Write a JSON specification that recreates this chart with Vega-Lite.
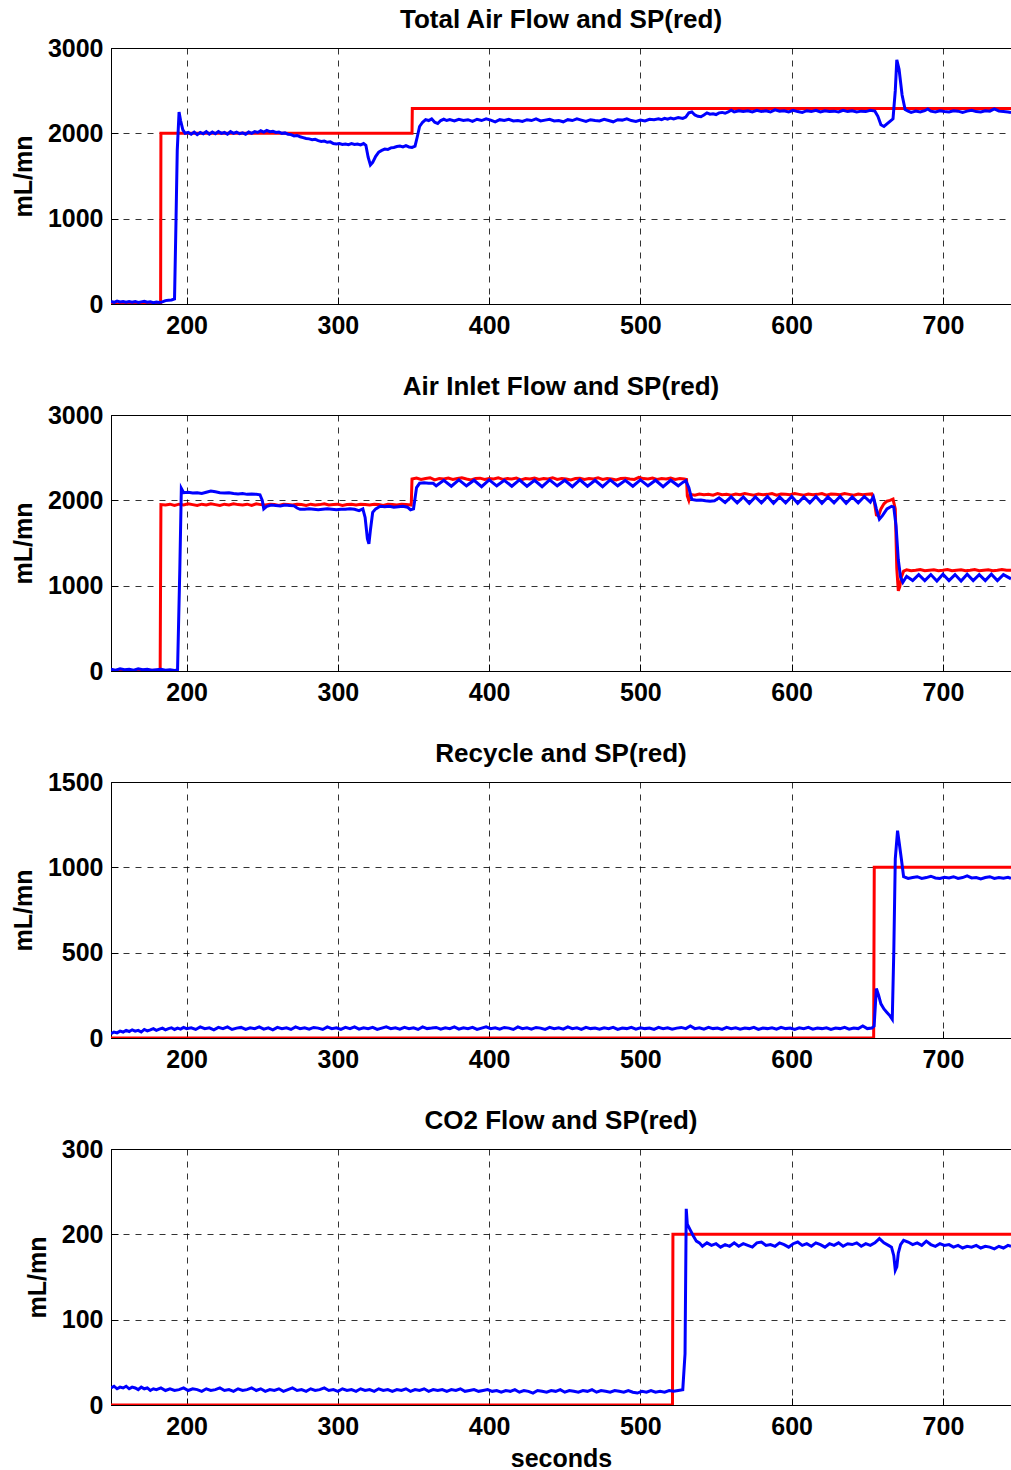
{
"$schema": "https://vega.github.io/schema/vega-lite/v6.json",
"autosize": {"type": "pad"},
"padding": {"left": 10, "top": 6, "right": 0, "bottom": 4},
"background": "white",
"config": {
  "font": "Liberation Sans",
  "view": {"stroke": "black", "strokeWidth": 1},
  "axis": {
    "labelFontSize": 25, "labelFontWeight": "bold", "labelColor": "black", "labelFont": "Liberation Sans",
    "titleFontSize": 25, "titleFontWeight": "bold", "titleColor": "black", "titleFont": "Liberation Sans",
    "domainColor": "black", "domainWidth": 1, "tickColor": "black", "tickSize": -7, "tickWidth": 1,
    "grid": true, "gridColor": "black", "gridDash": [6, 6], "gridWidth": 1, "gridOpacity": 0.8,
    "labelFlush": false, "labelOverlap": false, "labelBound": false
  },
  "axisX": {"labelPadding": 16, "titlePadding": 7},
  "axisY": {"labelPadding": 15, "titlePadding": 11},
  "title": {"fontSize": 26, "fontWeight": "bold", "color": "black", "font": "Liberation Sans", "offset": 3, "baseline": "alphabetic", "anchor": "middle"}
},
"datasets": {
"p1sp": [{"t":150,"v":0},{"t":182.8,"v":0},{"t":183,"v":2000},{"t":349,"v":2000},{"t":349.2,"v":2290},{"t":745,"v":2290}],
"p1pv": [{"t":150,"v":30},{"t":152,"v":20},{"t":154,"v":35},{"t":156,"v":25},{"t":158,"v":30},{"t":160,"v":20},{"t":162,"v":28},{"t":164,"v":22},{"t":166,"v":30},{"t":168,"v":18},{"t":170,"v":25},{"t":172,"v":32},{"t":174,"v":20},{"t":176,"v":26},{"t":178,"v":15},{"t":180,"v":22},{"t":182,"v":18},{"t":184,"v":25},{"t":186,"v":40},{"t":188,"v":45},{"t":190,"v":48},{"t":192,"v":60},{"t":193,"v":1000},{"t":193.8,"v":1800},{"t":195,"v":2250},{"t":196,"v":2150},{"t":197.5,"v":2040},{"t":199,"v":2000},{"t":201,"v":2010},{"t":203,"v":1990},{"t":205,"v":2015},{"t":207,"v":1985},{"t":209,"v":2010},{"t":211,"v":1995},{"t":213,"v":2020},{"t":215,"v":1990},{"t":217,"v":2015},{"t":219,"v":1995},{"t":221,"v":2020},{"t":223,"v":2000},{"t":225,"v":2010},{"t":227,"v":1990},{"t":229,"v":2020},{"t":231,"v":2000},{"t":233,"v":2015},{"t":235,"v":1995},{"t":237,"v":2005},{"t":239,"v":1990},{"t":241,"v":2015},{"t":243,"v":2000},{"t":245,"v":2020},{"t":247,"v":2010},{"t":249,"v":2030},{"t":251,"v":2015},{"t":253,"v":2035},{"t":255,"v":2020},{"t":257,"v":2025},{"t":259,"v":2010},{"t":261,"v":2015},{"t":263,"v":2000},{"t":265,"v":2005},{"t":267,"v":1990},{"t":269,"v":1985},{"t":271,"v":1970},{"t":273,"v":1975},{"t":275,"v":1960},{"t":277,"v":1950},{"t":279,"v":1940},{"t":281,"v":1935},{"t":283,"v":1925},{"t":285,"v":1930},{"t":287,"v":1915},{"t":289,"v":1905},{"t":291,"v":1910},{"t":293,"v":1895},{"t":295,"v":1900},{"t":297,"v":1880},{"t":299,"v":1875},{"t":301,"v":1880},{"t":303,"v":1870},{"t":305,"v":1875},{"t":307,"v":1868},{"t":309,"v":1880},{"t":311,"v":1870},{"t":313,"v":1875},{"t":315,"v":1865},{"t":317,"v":1880},{"t":318.5,"v":1860},{"t":320,"v":1720},{"t":321.5,"v":1630},{"t":323,"v":1660},{"t":325,"v":1730},{"t":327,"v":1780},{"t":329,"v":1800},{"t":331,"v":1815},{"t":333,"v":1810},{"t":335,"v":1830},{"t":337,"v":1835},{"t":339,"v":1845},{"t":341,"v":1850},{"t":343,"v":1840},{"t":345,"v":1855},{"t":347,"v":1840},{"t":349,"v":1835},{"t":351,"v":1850},{"t":352.5,"v":1960},{"t":354,"v":2080},{"t":356,"v":2130},{"t":358,"v":2160},{"t":360,"v":2150},{"t":362,"v":2170},{"t":364,"v":2130},{"t":366,"v":2115},{"t":368,"v":2150},{"t":370,"v":2165},{"t":372,"v":2150},{"t":374,"v":2160},{"t":377,"v":2145},{"t":380,"v":2165},{"t":383,"v":2150},{"t":386,"v":2160},{"t":389,"v":2140},{"t":392,"v":2165},{"t":395,"v":2150},{"t":398,"v":2170},{"t":401,"v":2155},{"t":404,"v":2135},{"t":407,"v":2160},{"t":410,"v":2150},{"t":413,"v":2165},{"t":416,"v":2145},{"t":419,"v":2150},{"t":422,"v":2140},{"t":425,"v":2160},{"t":428,"v":2150},{"t":431,"v":2170},{"t":434,"v":2145},{"t":437,"v":2155},{"t":440,"v":2165},{"t":443,"v":2145},{"t":446,"v":2150},{"t":449,"v":2135},{"t":452,"v":2160},{"t":455,"v":2150},{"t":458,"v":2170},{"t":461,"v":2155},{"t":464,"v":2140},{"t":467,"v":2160},{"t":470,"v":2150},{"t":473,"v":2145},{"t":476,"v":2165},{"t":479,"v":2150},{"t":482,"v":2135},{"t":485,"v":2160},{"t":488,"v":2155},{"t":491,"v":2170},{"t":494,"v":2150},{"t":497,"v":2140},{"t":500,"v":2155},{"t":503,"v":2145},{"t":506,"v":2165},{"t":509,"v":2160},{"t":512,"v":2170},{"t":514,"v":2160},{"t":516,"v":2175},{"t":518,"v":2165},{"t":520,"v":2180},{"t":522,"v":2170},{"t":525,"v":2185},{"t":528,"v":2175},{"t":530,"v":2190},{"t":532,"v":2240},{"t":534,"v":2250},{"t":536,"v":2215},{"t":538,"v":2200},{"t":540,"v":2195},{"t":542,"v":2215},{"t":544,"v":2240},{"t":546,"v":2225},{"t":548,"v":2230},{"t":550,"v":2220},{"t":552,"v":2240},{"t":554,"v":2245},{"t":556,"v":2235},{"t":558,"v":2250},{"t":560,"v":2270},{"t":562,"v":2250},{"t":565,"v":2265},{"t":568,"v":2255},{"t":571,"v":2265},{"t":574,"v":2250},{"t":577,"v":2270},{"t":580,"v":2255},{"t":583,"v":2265},{"t":586,"v":2250},{"t":589,"v":2275},{"t":592,"v":2260},{"t":595,"v":2265},{"t":598,"v":2250},{"t":601,"v":2270},{"t":604,"v":2255},{"t":607,"v":2245},{"t":610,"v":2265},{"t":613,"v":2255},{"t":616,"v":2270},{"t":619,"v":2250},{"t":622,"v":2265},{"t":625,"v":2255},{"t":628,"v":2260},{"t":631,"v":2250},{"t":634,"v":2270},{"t":637,"v":2255},{"t":640,"v":2265},{"t":643,"v":2250},{"t":646,"v":2260},{"t":649,"v":2255},{"t":652,"v":2270},{"t":655,"v":2260},{"t":657,"v":2200},{"t":659,"v":2100},{"t":661,"v":2080},{"t":663,"v":2110},{"t":665,"v":2140},{"t":667,"v":2170},{"t":668.5,"v":2500},{"t":669.5,"v":2860},{"t":671,"v":2750},{"t":673,"v":2450},{"t":675,"v":2280},{"t":677,"v":2260},{"t":679,"v":2245},{"t":682,"v":2260},{"t":685,"v":2250},{"t":688,"v":2265},{"t":690,"v":2285},{"t":692,"v":2260},{"t":695,"v":2250},{"t":698,"v":2265},{"t":701,"v":2255},{"t":704,"v":2250},{"t":707,"v":2265},{"t":710,"v":2260},{"t":713,"v":2245},{"t":716,"v":2260},{"t":719,"v":2270},{"t":722,"v":2255},{"t":725,"v":2250},{"t":728,"v":2265},{"t":731,"v":2260},{"t":734,"v":2285},{"t":737,"v":2260},{"t":740,"v":2255},{"t":743,"v":2250},{"t":745,"v":2245}],
"p2sp": [{"t":150,"v":5},{"t":160,"v":0},{"t":170,"v":8},{"t":182.5,"v":5},{"t":183,"v":1950},{"t":186,"v":1945},{"t":189,"v":1955},{"t":192,"v":1940},{"t":195,"v":1955},{"t":198,"v":1945},{"t":201,"v":1960},{"t":204,"v":1950},{"t":207,"v":1940},{"t":210,"v":1955},{"t":213,"v":1945},{"t":216,"v":1960},{"t":219,"v":1950},{"t":222,"v":1940},{"t":225,"v":1955},{"t":228,"v":1945},{"t":231,"v":1960},{"t":234,"v":1950},{"t":237,"v":1945},{"t":240,"v":1955},{"t":243,"v":1940},{"t":246,"v":1960},{"t":249,"v":1950},{"t":252,"v":1945},{"t":255,"v":1955},{"t":258,"v":1950},{"t":261,"v":1940},{"t":264,"v":1955},{"t":267,"v":1950},{"t":270,"v":1945},{"t":273,"v":1955},{"t":276,"v":1950},{"t":279,"v":1940},{"t":282,"v":1955},{"t":285,"v":1945},{"t":288,"v":1950},{"t":291,"v":1960},{"t":294,"v":1945},{"t":297,"v":1950},{"t":300,"v":1955},{"t":303,"v":1940},{"t":306,"v":1950},{"t":309,"v":1955},{"t":312,"v":1945},{"t":315,"v":1955},{"t":318,"v":1950},{"t":321,"v":1945},{"t":324,"v":1955},{"t":327,"v":1950},{"t":330,"v":1940},{"t":333,"v":1955},{"t":336,"v":1950},{"t":339,"v":1945},{"t":342,"v":1955},{"t":345,"v":1950},{"t":348.5,"v":1945},{"t":349,"v":2250},{"t":352,"v":2260},{"t":355,"v":2245},{"t":358,"v":2255},{"t":361,"v":2265},{"t":364,"v":2240},{"t":367,"v":2255},{"t":370,"v":2250},{"t":373,"v":2260},{"t":376,"v":2245},{"t":379,"v":2255},{"t":382,"v":2265},{"t":385,"v":2250},{"t":388,"v":2240},{"t":391,"v":2255},{"t":394,"v":2260},{"t":397,"v":2245},{"t":400,"v":2255},{"t":403,"v":2250},{"t":406,"v":2265},{"t":409,"v":2245},{"t":412,"v":2255},{"t":415,"v":2250},{"t":418,"v":2260},{"t":421,"v":2240},{"t":424,"v":2255},{"t":427,"v":2250},{"t":430,"v":2260},{"t":433,"v":2245},{"t":436,"v":2255},{"t":439,"v":2250},{"t":442,"v":2265},{"t":445,"v":2245},{"t":448,"v":2255},{"t":451,"v":2250},{"t":454,"v":2240},{"t":457,"v":2255},{"t":460,"v":2260},{"t":463,"v":2245},{"t":466,"v":2255},{"t":469,"v":2250},{"t":472,"v":2265},{"t":475,"v":2245},{"t":478,"v":2255},{"t":481,"v":2250},{"t":484,"v":2240},{"t":487,"v":2255},{"t":490,"v":2260},{"t":493,"v":2250},{"t":496,"v":2245},{"t":499,"v":2270},{"t":502,"v":2255},{"t":505,"v":2250},{"t":508,"v":2260},{"t":511,"v":2245},{"t":514,"v":2255},{"t":517,"v":2250},{"t":520,"v":2260},{"t":523,"v":2245},{"t":526,"v":2255},{"t":529,"v":2250},{"t":530.5,"v":2245},{"t":531,"v":2050},{"t":532,"v":2000},{"t":533,"v":2070},{"t":536,"v":2060},{"t":539,"v":2075},{"t":542,"v":2065},{"t":545,"v":2070},{"t":548,"v":2060},{"t":551,"v":2080},{"t":554,"v":2065},{"t":557,"v":2070},{"t":560,"v":2060},{"t":563,"v":2075},{"t":566,"v":2065},{"t":569,"v":2080},{"t":572,"v":2070},{"t":575,"v":2060},{"t":578,"v":2075},{"t":581,"v":2065},{"t":584,"v":2070},{"t":587,"v":2080},{"t":590,"v":2060},{"t":593,"v":2075},{"t":596,"v":2070},{"t":599,"v":2065},{"t":602,"v":2080},{"t":605,"v":2070},{"t":608,"v":2060},{"t":611,"v":2075},{"t":614,"v":2065},{"t":617,"v":2070},{"t":620,"v":2080},{"t":623,"v":2060},{"t":626,"v":2075},{"t":629,"v":2070},{"t":632,"v":2065},{"t":635,"v":2080},{"t":638,"v":2070},{"t":641,"v":2060},{"t":644,"v":2075},{"t":647,"v":2065},{"t":650,"v":2070},{"t":653,"v":2075},{"t":654.5,"v":2000},{"t":656,"v":1830},{"t":657.5,"v":1820},{"t":659,"v":1900},{"t":661,"v":1960},{"t":663,"v":1990},{"t":665,"v":2000},{"t":667,"v":2015},{"t":668.5,"v":1900},{"t":669.5,"v":1200},{"t":670.5,"v":940},{"t":671.5,"v":990},{"t":672.5,"v":1100},{"t":674,"v":1170},{"t":676,"v":1185},{"t":679,"v":1175},{"t":682,"v":1180},{"t":685,"v":1190},{"t":688,"v":1175},{"t":691,"v":1180},{"t":694,"v":1185},{"t":697,"v":1175},{"t":700,"v":1180},{"t":703,"v":1190},{"t":706,"v":1175},{"t":709,"v":1180},{"t":712,"v":1185},{"t":715,"v":1175},{"t":718,"v":1180},{"t":721,"v":1190},{"t":724,"v":1175},{"t":727,"v":1180},{"t":730,"v":1185},{"t":733,"v":1175},{"t":736,"v":1180},{"t":739,"v":1190},{"t":742,"v":1180},{"t":745,"v":1180}],
"p2pv": [{"t":150,"v":20},{"t":153,"v":10},{"t":156,"v":25},{"t":159,"v":15},{"t":162,"v":20},{"t":165,"v":10},{"t":168,"v":25},{"t":171,"v":15},{"t":174,"v":20},{"t":177,"v":10},{"t":180,"v":15},{"t":183,"v":20},{"t":186,"v":10},{"t":189,"v":15},{"t":192,"v":5},{"t":194,"v":15},{"t":195.5,"v":1200},{"t":196.5,"v":2140},{"t":198,"v":2090},{"t":201,"v":2095},{"t":204,"v":2085},{"t":207,"v":2090},{"t":210,"v":2080},{"t":213,"v":2095},{"t":216,"v":2110},{"t":219,"v":2100},{"t":222,"v":2090},{"t":225,"v":2085},{"t":228,"v":2090},{"t":231,"v":2080},{"t":234,"v":2075},{"t":237,"v":2080},{"t":240,"v":2070},{"t":243,"v":2075},{"t":246,"v":2070},{"t":248.5,"v":2065},{"t":250,"v":2000},{"t":251,"v":1900},{"t":253,"v":1930},{"t":256,"v":1945},{"t":259,"v":1940},{"t":262,"v":1935},{"t":265,"v":1945},{"t":268,"v":1940},{"t":271,"v":1935},{"t":273,"v":1910},{"t":275,"v":1895},{"t":278,"v":1895},{"t":281,"v":1900},{"t":284,"v":1895},{"t":287,"v":1890},{"t":290,"v":1895},{"t":293,"v":1900},{"t":296,"v":1895},{"t":299,"v":1890},{"t":302,"v":1895},{"t":305,"v":1895},{"t":308,"v":1900},{"t":311,"v":1895},{"t":314,"v":1880},{"t":316.5,"v":1900},{"t":318,"v":1800},{"t":319.5,"v":1550},{"t":320.5,"v":1490},{"t":321.5,"v":1650},{"t":323,"v":1860},{"t":325,"v":1900},{"t":328,"v":1930},{"t":331,"v":1925},{"t":334,"v":1930},{"t":337,"v":1920},{"t":340,"v":1925},{"t":343,"v":1930},{"t":346,"v":1920},{"t":348,"v":1890},{"t":350,"v":1900},{"t":352,"v":2150},{"t":354,"v":2200},{"t":357,"v":2205},{"t":360,"v":2200},{"t":363,"v":2200},{"t":365,"v":2170},{"t":370,"v":2235},{"t":375,"v":2165},{"t":380,"v":2240},{"t":385,"v":2170},{"t":390,"v":2235},{"t":395,"v":2160},{"t":400,"v":2240},{"t":405,"v":2170},{"t":410,"v":2235},{"t":415,"v":2165},{"t":420,"v":2240},{"t":425,"v":2165},{"t":430,"v":2235},{"t":435,"v":2160},{"t":440,"v":2240},{"t":445,"v":2170},{"t":450,"v":2235},{"t":455,"v":2160},{"t":460,"v":2240},{"t":465,"v":2165},{"t":470,"v":2235},{"t":475,"v":2160},{"t":480,"v":2240},{"t":485,"v":2170},{"t":490,"v":2235},{"t":495,"v":2165},{"t":500,"v":2240},{"t":505,"v":2170},{"t":510,"v":2235},{"t":515,"v":2160},{"t":520,"v":2235},{"t":525,"v":2170},{"t":528,"v":2210},{"t":530,"v":2230},{"t":532,"v":2150},{"t":534,"v":2010},{"t":537,"v":2000},{"t":540,"v":2005},{"t":543,"v":1995},{"t":546,"v":1990},{"t":549,"v":1995},{"t":552,"v":2030},{"t":556,"v":1975},{"t":560,"v":2040},{"t":564,"v":1970},{"t":568,"v":2040},{"t":572,"v":1965},{"t":576,"v":2040},{"t":580,"v":1970},{"t":584,"v":2045},{"t":588,"v":1965},{"t":592,"v":2040},{"t":596,"v":1970},{"t":600,"v":2045},{"t":604,"v":1965},{"t":608,"v":2040},{"t":612,"v":1970},{"t":616,"v":2045},{"t":620,"v":1965},{"t":624,"v":2040},{"t":628,"v":1970},{"t":632,"v":2045},{"t":636,"v":1965},{"t":640,"v":2040},{"t":644,"v":1970},{"t":648,"v":2045},{"t":652,"v":1980},{"t":654,"v":2040},{"t":656,"v":1900},{"t":658,"v":1780},{"t":660,"v":1820},{"t":663,"v":1900},{"t":666,"v":1930},{"t":667.5,"v":1920},{"t":669,"v":1700},{"t":670.5,"v":1300},{"t":672,"v":1100},{"t":673.5,"v":1040},{"t":676,"v":1110},{"t":680,"v":1060},{"t":684,"v":1130},{"t":688,"v":1060},{"t":692,"v":1130},{"t":696,"v":1055},{"t":700,"v":1135},{"t":704,"v":1060},{"t":708,"v":1130},{"t":712,"v":1055},{"t":716,"v":1135},{"t":720,"v":1060},{"t":724,"v":1130},{"t":728,"v":1060},{"t":732,"v":1135},{"t":736,"v":1060},{"t":740,"v":1130},{"t":745,"v":1080}],
"p3sp": [{"t":150,"v":0},{"t":654.2,"v":0},{"t":654.6,"v":1000},{"t":745,"v":1000}],
"p3pv": [{"t":150,"v":25},{"t":152,"v":35},{"t":154,"v":30},{"t":156,"v":40},{"t":158,"v":35},{"t":160,"v":45},{"t":162,"v":38},{"t":164,"v":48},{"t":166,"v":40},{"t":168,"v":45},{"t":170,"v":35},{"t":172,"v":50},{"t":174,"v":42},{"t":176,"v":48},{"t":178,"v":55},{"t":180,"v":45},{"t":182,"v":52},{"t":184,"v":58},{"t":186,"v":48},{"t":188,"v":55},{"t":190,"v":60},{"t":192,"v":50},{"t":194,"v":58},{"t":196,"v":52},{"t":198,"v":62},{"t":200,"v":55},{"t":203,"v":60},{"t":206,"v":50},{"t":209,"v":65},{"t":212,"v":55},{"t":215,"v":60},{"t":218,"v":48},{"t":221,"v":62},{"t":224,"v":55},{"t":227,"v":65},{"t":230,"v":50},{"t":233,"v":58},{"t":236,"v":62},{"t":239,"v":50},{"t":242,"v":60},{"t":245,"v":55},{"t":248,"v":65},{"t":251,"v":52},{"t":254,"v":60},{"t":257,"v":48},{"t":260,"v":62},{"t":263,"v":55},{"t":266,"v":60},{"t":269,"v":50},{"t":272,"v":65},{"t":275,"v":55},{"t":278,"v":60},{"t":281,"v":52},{"t":284,"v":62},{"t":287,"v":58},{"t":290,"v":50},{"t":293,"v":65},{"t":296,"v":55},{"t":299,"v":60},{"t":302,"v":50},{"t":305,"v":62},{"t":308,"v":55},{"t":311,"v":65},{"t":314,"v":52},{"t":317,"v":60},{"t":320,"v":55},{"t":323,"v":62},{"t":326,"v":50},{"t":329,"v":58},{"t":332,"v":65},{"t":335,"v":55},{"t":338,"v":60},{"t":341,"v":52},{"t":344,"v":62},{"t":347,"v":55},{"t":350,"v":60},{"t":353,"v":50},{"t":356,"v":65},{"t":359,"v":55},{"t":362,"v":58},{"t":365,"v":62},{"t":368,"v":52},{"t":371,"v":60},{"t":374,"v":55},{"t":377,"v":65},{"t":380,"v":52},{"t":383,"v":60},{"t":386,"v":55},{"t":389,"v":62},{"t":392,"v":50},{"t":395,"v":58},{"t":398,"v":65},{"t":401,"v":55},{"t":404,"v":60},{"t":407,"v":52},{"t":410,"v":62},{"t":413,"v":58},{"t":416,"v":50},{"t":419,"v":65},{"t":422,"v":55},{"t":425,"v":60},{"t":428,"v":52},{"t":431,"v":62},{"t":434,"v":58},{"t":437,"v":50},{"t":440,"v":62},{"t":443,"v":55},{"t":446,"v":60},{"t":449,"v":52},{"t":452,"v":65},{"t":455,"v":55},{"t":458,"v":60},{"t":461,"v":50},{"t":464,"v":62},{"t":467,"v":55},{"t":470,"v":58},{"t":473,"v":52},{"t":476,"v":60},{"t":479,"v":55},{"t":482,"v":62},{"t":485,"v":50},{"t":488,"v":58},{"t":491,"v":55},{"t":494,"v":62},{"t":497,"v":52},{"t":500,"v":60},{"t":503,"v":55},{"t":506,"v":58},{"t":509,"v":50},{"t":512,"v":62},{"t":515,"v":55},{"t":518,"v":60},{"t":521,"v":52},{"t":524,"v":58},{"t":527,"v":62},{"t":530,"v":55},{"t":533,"v":70},{"t":536,"v":55},{"t":539,"v":60},{"t":542,"v":52},{"t":545,"v":62},{"t":548,"v":55},{"t":551,"v":58},{"t":554,"v":50},{"t":557,"v":62},{"t":560,"v":55},{"t":563,"v":60},{"t":566,"v":52},{"t":569,"v":58},{"t":572,"v":55},{"t":575,"v":62},{"t":578,"v":50},{"t":581,"v":58},{"t":584,"v":55},{"t":587,"v":60},{"t":590,"v":52},{"t":593,"v":62},{"t":596,"v":55},{"t":599,"v":58},{"t":602,"v":50},{"t":605,"v":60},{"t":608,"v":55},{"t":611,"v":62},{"t":614,"v":52},{"t":617,"v":58},{"t":620,"v":55},{"t":623,"v":60},{"t":626,"v":50},{"t":629,"v":58},{"t":632,"v":55},{"t":635,"v":62},{"t":638,"v":52},{"t":641,"v":58},{"t":644,"v":55},{"t":647,"v":70},{"t":650,"v":55},{"t":653,"v":58},{"t":654.5,"v":70},{"t":656,"v":290},{"t":657.5,"v":250},{"t":659,"v":200},{"t":661,"v":170},{"t":663,"v":150},{"t":665,"v":130},{"t":666.5,"v":110},{"t":667.5,"v":500},{"t":668.5,"v":1050},{"t":670,"v":1215},{"t":671,"v":1150},{"t":672.5,"v":1050},{"t":674,"v":945},{"t":677,"v":935},{"t":680,"v":940},{"t":683,"v":945},{"t":686,"v":935},{"t":689,"v":940},{"t":692,"v":948},{"t":695,"v":938},{"t":698,"v":935},{"t":701,"v":942},{"t":704,"v":938},{"t":707,"v":945},{"t":710,"v":935},{"t":713,"v":940},{"t":716,"v":950},{"t":719,"v":938},{"t":722,"v":940},{"t":725,"v":932},{"t":728,"v":940},{"t":731,"v":945},{"t":734,"v":935},{"t":737,"v":940},{"t":740,"v":936},{"t":743,"v":942},{"t":745,"v":935}],
"p4sp": [{"t":150,"v":0},{"t":521.2,"v":0},{"t":521.5,"v":200},{"t":745,"v":200}],
"p4pv": [{"t":150,"v":20},{"t":152,"v":22},{"t":154,"v":19},{"t":156,"v":21},{"t":158,"v":20},{"t":160,"v":22},{"t":162,"v":19},{"t":164,"v":21},{"t":166,"v":20},{"t":168,"v":18},{"t":170,"v":21},{"t":172,"v":19},{"t":174,"v":20},{"t":176,"v":17},{"t":178,"v":19},{"t":180,"v":18},{"t":183,"v":20},{"t":186,"v":17},{"t":189,"v":19},{"t":192,"v":17},{"t":195,"v":18},{"t":198,"v":20},{"t":201,"v":17},{"t":204,"v":19},{"t":207,"v":18},{"t":210,"v":16},{"t":213,"v":19},{"t":216,"v":17},{"t":219,"v":18},{"t":222,"v":20},{"t":225,"v":17},{"t":228,"v":18},{"t":231,"v":16},{"t":234,"v":19},{"t":237,"v":17},{"t":240,"v":18},{"t":243,"v":20},{"t":246,"v":17},{"t":249,"v":19},{"t":252,"v":16},{"t":255,"v":18},{"t":258,"v":17},{"t":261,"v":19},{"t":264,"v":16},{"t":267,"v":18},{"t":270,"v":20},{"t":273,"v":17},{"t":276,"v":18},{"t":279,"v":16},{"t":282,"v":19},{"t":285,"v":17},{"t":288,"v":18},{"t":291,"v":20},{"t":294,"v":17},{"t":297,"v":18},{"t":300,"v":16},{"t":303,"v":19},{"t":306,"v":17},{"t":309,"v":18},{"t":312,"v":16},{"t":315,"v":19},{"t":318,"v":17},{"t":321,"v":18},{"t":324,"v":16},{"t":327,"v":19},{"t":330,"v":17},{"t":333,"v":18},{"t":336,"v":16},{"t":339,"v":18},{"t":342,"v":17},{"t":345,"v":19},{"t":348,"v":16},{"t":351,"v":18},{"t":354,"v":17},{"t":357,"v":19},{"t":360,"v":16},{"t":363,"v":18},{"t":366,"v":17},{"t":369,"v":18},{"t":372,"v":16},{"t":375,"v":18},{"t":378,"v":17},{"t":381,"v":19},{"t":384,"v":16},{"t":387,"v":17},{"t":390,"v":18},{"t":393,"v":16},{"t":396,"v":17},{"t":399,"v":18},{"t":402,"v":16},{"t":405,"v":17},{"t":408,"v":15},{"t":411,"v":17},{"t":414,"v":16},{"t":417,"v":18},{"t":420,"v":15},{"t":423,"v":17},{"t":426,"v":16},{"t":429,"v":14},{"t":432,"v":17},{"t":435,"v":16},{"t":438,"v":15},{"t":441,"v":17},{"t":444,"v":16},{"t":447,"v":18},{"t":450,"v":15},{"t":453,"v":17},{"t":456,"v":16},{"t":459,"v":15},{"t":462,"v":17},{"t":465,"v":16},{"t":468,"v":18},{"t":471,"v":15},{"t":474,"v":17},{"t":477,"v":16},{"t":480,"v":15},{"t":483,"v":17},{"t":486,"v":16},{"t":489,"v":15},{"t":492,"v":17},{"t":495,"v":15},{"t":498,"v":14},{"t":501,"v":16},{"t":504,"v":15},{"t":507,"v":17},{"t":510,"v":15},{"t":513,"v":16},{"t":516,"v":15},{"t":519,"v":17},{"t":522,"v":16},{"t":525,"v":17},{"t":528,"v":18},{"t":529.5,"v":60},{"t":530.3,"v":230},{"t":531,"v":212},{"t":533,"v":205},{"t":535,"v":198},{"t":537,"v":192},{"t":539,"v":190},{"t":541,"v":186},{"t":544,"v":190},{"t":547,"v":187},{"t":550,"v":189},{"t":553,"v":185},{"t":556,"v":188},{"t":559,"v":186},{"t":562,"v":190},{"t":565,"v":186},{"t":568,"v":189},{"t":571,"v":187},{"t":574,"v":185},{"t":577,"v":190},{"t":580,"v":191},{"t":583,"v":187},{"t":586,"v":188},{"t":589,"v":186},{"t":592,"v":190},{"t":595,"v":188},{"t":598,"v":185},{"t":601,"v":189},{"t":604,"v":191},{"t":607,"v":187},{"t":610,"v":189},{"t":613,"v":186},{"t":616,"v":190},{"t":619,"v":188},{"t":622,"v":185},{"t":625,"v":189},{"t":628,"v":187},{"t":631,"v":190},{"t":634,"v":186},{"t":637,"v":189},{"t":640,"v":188},{"t":643,"v":190},{"t":646,"v":186},{"t":649,"v":189},{"t":652,"v":187},{"t":655,"v":190},{"t":658,"v":195},{"t":661,"v":190},{"t":664,"v":187},{"t":666,"v":185},{"t":667.5,"v":175},{"t":668.5,"v":158},{"t":669.5,"v":162},{"t":670.5,"v":178},{"t":672,"v":188},{"t":674,"v":193},{"t":677,"v":191},{"t":680,"v":188},{"t":683,"v":190},{"t":686,"v":187},{"t":689,"v":192},{"t":692,"v":188},{"t":695,"v":186},{"t":698,"v":189},{"t":701,"v":187},{"t":704,"v":188},{"t":707,"v":185},{"t":710,"v":187},{"t":713,"v":184},{"t":716,"v":186},{"t":719,"v":185},{"t":722,"v":187},{"t":725,"v":184},{"t":728,"v":186},{"t":731,"v":185},{"t":734,"v":183},{"t":737,"v":186},{"t":740,"v":184},{"t":743,"v":187},{"t":745,"v":186}]
},
"bounds": "flush",
"spacing": 111,
"vconcat": [
 {"title": "Total Air Flow and SP(red)", "width": 900, "height": 256,
  "encoding": {
    "x": {"field": "t", "type": "quantitative", "scale": {"domain": [150, 745], "nice": false, "zero": false}, "axis": {"values": [200, 300, 400, 500, 600, 700], "title": null}},
    "y": {"field": "v", "type": "quantitative", "scale": {"domain": [0, 3000], "nice": false}, "axis": {"values": [0, 1000, 2000, 3000], "format": "d", "title": "mL/mn"}}
  },
  "layer": [
    {"data": {"name": "p1sp"}, "mark": {"type": "line", "color": "#ff0000", "strokeWidth": 3, "clip": true}},
    {"data": {"name": "p1pv"}, "mark": {"type": "line", "color": "#0000ff", "strokeWidth": 3, "clip": true}}
  ]},
 {"title": "Air Inlet Flow and SP(red)", "width": 900, "height": 256,
  "encoding": {
    "x": {"field": "t", "type": "quantitative", "scale": {"domain": [150, 745], "nice": false, "zero": false}, "axis": {"values": [200, 300, 400, 500, 600, 700], "title": null}},
    "y": {"field": "v", "type": "quantitative", "scale": {"domain": [0, 3000], "nice": false}, "axis": {"values": [0, 1000, 2000, 3000], "format": "d", "title": "mL/mn"}}
  },
  "layer": [
    {"data": {"name": "p2sp"}, "mark": {"type": "line", "color": "#ff0000", "strokeWidth": 3, "clip": true}},
    {"data": {"name": "p2pv"}, "mark": {"type": "line", "color": "#0000ff", "strokeWidth": 3, "clip": true}}
  ]},
 {"title": "Recycle and SP(red)", "width": 900, "height": 256,
  "encoding": {
    "x": {"field": "t", "type": "quantitative", "scale": {"domain": [150, 745], "nice": false, "zero": false}, "axis": {"values": [200, 300, 400, 500, 600, 700], "title": null}},
    "y": {"field": "v", "type": "quantitative", "scale": {"domain": [0, 1500], "nice": false}, "axis": {"values": [0, 500, 1000, 1500], "format": "d", "title": "mL/mn"}}
  },
  "layer": [
    {"data": {"name": "p3sp"}, "mark": {"type": "line", "color": "#ff0000", "strokeWidth": 3, "clip": true}},
    {"data": {"name": "p3pv"}, "mark": {"type": "line", "color": "#0000ff", "strokeWidth": 3, "clip": true}}
  ]},
 {"title": "CO2 Flow and SP(red)", "width": 900, "height": 256,
  "encoding": {
    "x": {"field": "t", "type": "quantitative", "scale": {"domain": [150, 745], "nice": false, "zero": false}, "axis": {"values": [200, 300, 400, 500, 600, 700], "title": "seconds"}},
    "y": {"field": "v", "type": "quantitative", "scale": {"domain": [0, 300], "nice": false}, "axis": {"values": [0, 100, 200, 300], "format": "d", "title": "mL/mn"}}
  },
  "layer": [
    {"data": {"name": "p4sp"}, "mark": {"type": "line", "color": "#ff0000", "strokeWidth": 3, "clip": true}},
    {"data": {"name": "p4pv"}, "mark": {"type": "line", "color": "#0000ff", "strokeWidth": 3, "clip": true}}
  ]}
]
}
